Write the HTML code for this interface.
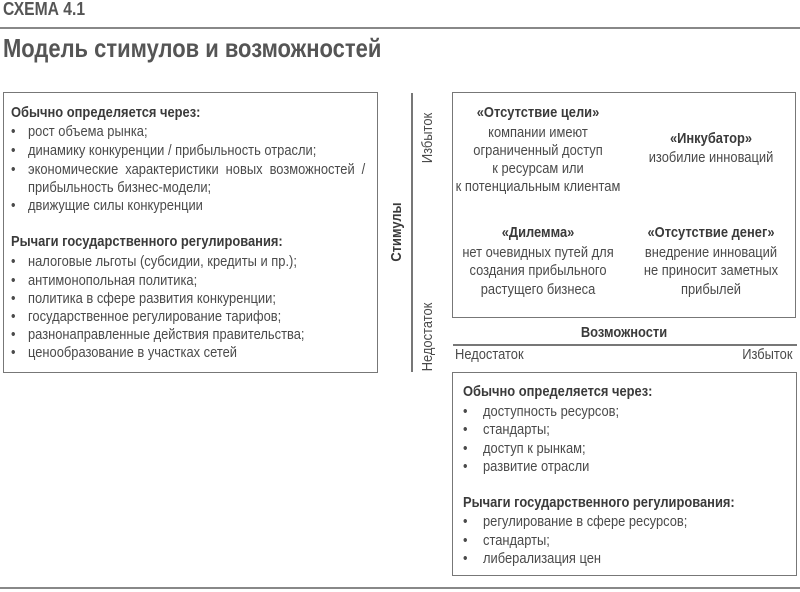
<!DOCTYPE html>
<html><head><meta charset="utf-8"><style>
body{margin:0;width:800px;height:592px;background:#fff;position:relative;overflow:hidden;font-family:"Liberation Sans",sans-serif;color:#4a4a4a;font-size:15px}
.t{position:absolute;line-height:16px;white-space:nowrap;transform:scaleX(.86);transform-origin:left center}
.b{font-weight:bold;color:#3a3a3a}
.c{transform:translateX(-50%) scaleX(.86);transform-origin:center center;text-align:center}
.rt{transform:scaleX(.86);transform-origin:right center}
.box{position:absolute;border:1.5px solid #777;box-sizing:border-box}
.ln{position:absolute;background:#777}
.r{position:absolute;white-space:nowrap;transform:translate(-50%,-50%) rotate(-90deg) scaleX(.86);line-height:16px}
</style></head><body>
<div class="t b" style="left:3px;top:-1px;font-size:18px;line-height:20px;color:#555;transform:scaleX(.87)">СХЕМА 4.1</div>
<div class="ln" style="left:0;top:27px;width:800px;height:1.5px;background:#888"></div>
<div class="t b" style="left:3px;top:33px;font-size:26px;line-height:30px;color:#555;transform:scaleX(.845)">Модель стимулов и возможностей</div>

<div class="box" style="left:3px;top:92px;width:375px;height:281px"></div>
<div class="t b" style="left:11px;top:105px">Обычно определяется через:</div>
<div class="t" style="left:11px;top:124px">•</div><div class="t" style="left:28px;top:124px">рост объема рынка;</div>
<div class="t" style="left:11px;top:143px">•</div><div class="t" style="left:28px;top:143px">динамику конкуренции / прибыльность отрасли;</div>
<div class="t" style="left:11px;top:162px">•</div><div class="t" style="left:28px;top:162px;word-spacing:4px">экономические характеристики новых возможностей /</div>
<div class="t" style="left:28px;top:180px">прибыльность бизнес-модели;</div>
<div class="t" style="left:11px;top:198px">•</div><div class="t" style="left:28px;top:198px">движущие силы конкуренции</div>
<div class="t b" style="left:11px;top:234px">Рычаги государственного регулирования:</div>
<div class="t" style="left:11px;top:254px">•</div><div class="t" style="left:28px;top:254px">налоговые льготы (субсидии, кредиты и пр.);</div>
<div class="t" style="left:11px;top:273px">•</div><div class="t" style="left:28px;top:273px">антимонопольная политика;</div>
<div class="t" style="left:11px;top:291px">•</div><div class="t" style="left:28px;top:291px">политика в сфере развития конкуренции;</div>
<div class="t" style="left:11px;top:309px">•</div><div class="t" style="left:28px;top:309px">государственное регулирование тарифов;</div>
<div class="t" style="left:11px;top:327px">•</div><div class="t" style="left:28px;top:327px">разнонаправленные действия правительства;</div>
<div class="t" style="left:11px;top:345px">•</div><div class="t" style="left:28px;top:345px">ценообразование в участках сетей</div>

<div class="ln" style="left:411px;top:93px;width:1.5px;height:279px"></div>
<div class="r b" style="left:397px;top:232px">Стимулы</div>
<div class="r" style="left:428px;top:138px">Избыток</div>
<div class="r" style="left:428px;top:337px">Недостаток</div>

<div class="box" style="left:452px;top:92px;width:344px;height:226px"></div>
<div class="t b c" style="left:538px;top:105px">«Отсутствие цели»</div>
<div class="t c" style="left:538px;top:125px">компании имеют</div>
<div class="t c" style="left:538px;top:143px">ограниченный доступ</div>
<div class="t c" style="left:538px;top:161px">к ресурсам или</div>
<div class="t c" style="left:538px;top:179px">к потенциальным клиентам</div>
<div class="t b c" style="left:711px;top:131px">«Инкубатор»</div>
<div class="t c" style="left:711px;top:150px">изобилие инноваций</div>
<div class="t b c" style="left:538px;top:225px">«Дилемма»</div>
<div class="t c" style="left:538px;top:245px">нет очевидных путей для</div>
<div class="t c" style="left:538px;top:263px">создания прибыльного</div>
<div class="t c" style="left:538px;top:282px">растущего бизнеса</div>
<div class="t b c" style="left:711px;top:225px">«Отсутствие денег»</div>
<div class="t c" style="left:711px;top:245px">внедрение инноваций</div>
<div class="t c" style="left:711px;top:263px">не приносит заметных</div>
<div class="t c" style="left:711px;top:282px">прибылей</div>

<div class="t b c" style="left:624px;top:325px">Возможности</div>
<div class="ln" style="left:453px;top:344px;width:344px;height:1.5px"></div>
<div class="t" style="left:455px;top:347px">Недостаток</div>
<div class="t rt" style="right:8px;top:347px">Избыток</div>

<div class="box" style="left:452px;top:372px;width:345px;height:204px"></div>
<div class="t b" style="left:463px;top:384px">Обычно определяется через:</div>
<div class="t" style="left:463px;top:404px">•</div><div class="t" style="left:483px;top:404px">доступность ресурсов;</div>
<div class="t" style="left:463px;top:422px">•</div><div class="t" style="left:483px;top:422px">стандарты;</div>
<div class="t" style="left:463px;top:441px">•</div><div class="t" style="left:483px;top:441px">доступ к рынкам;</div>
<div class="t" style="left:463px;top:459px">•</div><div class="t" style="left:483px;top:459px">развитие отрасли</div>
<div class="t b" style="left:463px;top:495px">Рычаги государственного регулирования:</div>
<div class="t" style="left:463px;top:514px">•</div><div class="t" style="left:483px;top:514px">регулирование в сфере ресурсов;</div>
<div class="t" style="left:463px;top:533px">•</div><div class="t" style="left:483px;top:533px">стандарты;</div>
<div class="t" style="left:463px;top:551px">•</div><div class="t" style="left:483px;top:551px">либерализация цен</div>

<div class="ln" style="left:0;top:587px;width:800px;height:1.5px;background:#888"></div>
</body></html>
